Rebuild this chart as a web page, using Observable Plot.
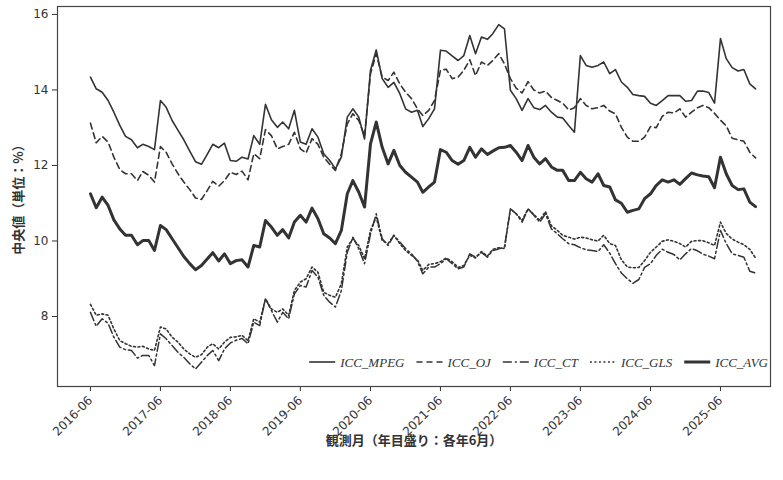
<!DOCTYPE html>
<html>
<head>
<meta charset="utf-8">
<script src="https://cdn.jsdelivr.net/npm/d3@7"></script>
<script src="https://cdn.jsdelivr.net/npm/@observablehq/plot@0.6"></script>
<style>
  body { margin: 0; background: #fff; }
  #chart svg { font-family: "DejaVu Sans", "Noto Sans CJK JP", sans-serif; }
  #chart svg [aria-label="x-axis label"] text,
  #chart svg [aria-label="y-axis label"] text { font-family: "Noto Sans CJK JP", sans-serif; font-weight: bold; font-size: 13px; }
</style>
</head>
<body>
<div id="chart"></div>
<script>
// Monthly medians (%), June 2016 through December 2025
const firstMonth = "2016-06";
const monthCount = 115;
const seriesNames = ["ICC_MPEG", "ICC_OJ", "ICC_CT", "ICC_GLS", "ICC_AVG"];
const tickLabels = ["2016-06","2017-06","2018-06","2019-06","2020-06","2021-06","2022-06","2023-06","2024-06","2025-06"];
const yTicks = [8, 10, 12, 14, 16];

const iccMpeg = [
  14.34, 14.03, 13.94, 13.72, 13.41, 13.06, 12.77, 12.68, 12.47, 12.56, 12.50, 12.42,
  13.72, 13.54, 13.19, 12.93, 12.68, 12.38, 12.10, 12.03, 12.30, 12.56, 12.47, 12.59,
  12.13, 12.11, 12.22, 12.17, 12.79, 12.56, 13.62, 13.21, 13.01, 13.15, 12.97, 13.46,
  12.62, 12.56, 12.97, 12.75, 12.31, 12.13, 11.91, 12.22, 13.28, 13.50, 13.28, 12.70,
  14.52, 15.06, 14.30, 14.07, 14.20, 13.90, 13.50, 13.41, 13.46, 13.03, 13.24, 13.50,
  15.05, 15.03, 14.90, 14.78, 14.91, 15.44, 14.96, 15.40, 15.34, 15.49, 15.73, 15.62,
  13.99, 13.77, 13.46, 13.77, 13.53, 13.48, 13.59, 13.41, 13.28, 13.26, 13.06, 12.88,
  14.91, 14.65, 14.60, 14.65, 14.74, 14.43, 14.54, 14.21, 14.07, 13.88, 13.85, 13.83,
  13.65, 13.59, 13.72, 13.85, 13.85, 13.85, 13.70, 13.72, 13.97, 13.97, 13.93, 13.65,
  15.36, 14.83, 14.59, 14.50, 14.54, 14.16, 14.03
];
const iccOj = [
  13.12, 12.60, 12.77, 12.62, 12.22, 11.89, 11.78, 11.78, 11.60, 11.84, 11.74, 11.56,
  12.50, 12.35, 12.04, 11.78, 11.56, 11.36, 11.14, 11.10, 11.34, 11.58, 11.45, 11.60,
  11.82, 11.76, 11.85, 11.62, 12.31, 12.18, 12.95, 12.79, 12.44, 12.50, 12.56, 12.88,
  12.44, 12.33, 12.71, 12.56, 12.22, 12.03, 11.87, 12.31, 13.10, 13.37, 13.19, 12.78,
  14.43, 14.96, 14.34, 14.25, 14.47, 14.16, 13.94, 13.77, 13.50, 13.32, 13.46, 13.72,
  14.52, 14.55, 14.30, 14.34, 14.52, 14.80, 14.38, 14.74, 14.65, 14.78, 14.96, 14.69,
  14.30, 14.05, 13.92, 14.22, 14.00, 13.92, 13.97, 13.80, 13.72, 13.65, 13.47, 13.53,
  13.77, 13.59, 13.50, 13.53, 13.59, 13.44, 13.37, 13.01, 12.75, 12.64, 12.64, 12.75,
  13.03, 13.00, 13.30, 13.41, 13.39, 13.50, 13.28, 13.41, 13.53, 13.59, 13.53, 13.38,
  13.20, 13.05, 12.72, 12.68, 12.64, 12.35, 12.20
];
const iccCt = [
  8.11, 7.74, 7.94, 7.82, 7.45, 7.19, 7.12, 7.10, 6.90, 6.97, 6.97, 6.70,
  7.54, 7.41, 7.23, 7.05, 6.92, 6.75, 6.61, 6.79, 6.97, 7.10, 6.83, 7.14,
  7.30, 7.37, 7.42, 7.28, 7.85, 7.76, 8.47, 8.16, 7.85, 8.11, 7.94, 8.60,
  8.82, 8.78, 9.22, 9.04, 8.56, 8.38, 8.25, 8.69, 9.70, 10.10, 9.79, 9.40,
  10.18, 10.72, 10.06, 9.88, 10.15, 9.97, 9.80, 9.66, 9.46, 9.13, 9.31, 9.31,
  9.40, 9.53, 9.40, 9.26, 9.31, 9.66, 9.57, 9.70, 9.57, 9.75, 9.79, 9.84,
  10.85, 10.72, 10.50, 10.85, 10.68, 10.50, 10.72, 10.32, 10.19, 10.06, 9.93, 9.90,
  9.82, 9.77, 9.75, 9.72, 9.90, 9.68, 9.40, 9.15, 9.00, 8.88, 8.98, 9.30,
  9.40, 9.62, 9.78, 9.70, 9.64, 9.50, 9.66, 9.80, 9.74, 9.65, 9.60, 9.53,
  10.28, 9.93, 9.66, 9.62, 9.57, 9.20, 9.15
];
const iccGls = [
  8.32, 8.03, 8.07, 8.03, 7.67, 7.36, 7.28, 7.21, 7.19, 7.21, 7.14, 7.10,
  7.72, 7.67, 7.45, 7.32, 7.14, 7.01, 6.92, 6.99, 7.19, 7.28, 7.14, 7.32,
  7.45, 7.46, 7.50, 7.36, 7.94, 7.85, 8.47, 8.20, 8.11, 8.20, 8.03, 8.69,
  8.91, 9.00, 9.31, 9.17, 8.64, 8.56, 8.51, 8.87, 9.84, 10.06, 9.88, 9.53,
  10.28, 10.63, 10.01, 9.93, 10.15, 9.93, 9.75, 9.62, 9.50, 9.22, 9.38, 9.40,
  9.45, 9.55, 9.45, 9.30, 9.35, 9.62, 9.55, 9.72, 9.60, 9.78, 9.82, 9.80,
  10.85, 10.72, 10.55, 10.85, 10.70, 10.55, 10.78, 10.40, 10.28, 10.15, 10.10, 10.05,
  10.10, 10.08, 10.03, 10.00, 10.15, 9.93, 9.88, 9.50, 9.31, 9.29, 9.30, 9.48,
  9.70, 9.84, 9.99, 10.03, 9.99, 9.93, 9.84, 9.99, 10.01, 10.01, 9.95, 9.88,
  10.50, 10.20, 10.05, 9.97, 9.90, 9.78, 9.55
];
const iccAvg = [
  11.25, 10.88, 11.16, 10.94, 10.56, 10.32, 10.15, 10.15, 9.90, 10.01, 10.01, 9.75,
  10.41, 10.30, 10.06, 9.82, 9.59, 9.40, 9.24, 9.35, 9.53, 9.69, 9.47, 9.66,
  9.40, 9.48, 9.50, 9.31, 9.88, 9.84, 10.54, 10.37, 10.15, 10.30, 10.08, 10.50,
  10.68, 10.50, 10.87, 10.59, 10.19, 10.08, 9.93, 10.28, 11.25, 11.60, 11.29, 10.90,
  12.57, 13.15, 12.48, 12.04, 12.40, 12.00, 11.82, 11.69, 11.56, 11.29, 11.43, 11.56,
  12.42, 12.35, 12.13, 12.03, 12.13, 12.48, 12.22, 12.44, 12.29, 12.38, 12.47, 12.48,
  12.53, 12.35, 12.13, 12.53, 12.22, 12.04, 12.18, 11.96, 11.87, 11.87, 11.60, 11.60,
  11.82, 11.65, 11.56, 11.78, 11.47, 11.43, 11.09, 11.00, 10.76, 10.81, 10.85, 11.12,
  11.25, 11.47, 11.62, 11.56, 11.62, 11.50, 11.65, 11.80, 11.75, 11.72, 11.70, 11.41,
  12.22, 11.78, 11.47, 11.36, 11.38, 11.03, 10.91
];

const seriesValues = [iccMpeg, iccOj, iccCt, iccGls, iccAvg];

// Line styling for each series (all drawn in dark grey)
const lineStyle = {
  ICC_MPEG: {width: 1.6, dash: null},
  ICC_OJ:   {width: 1.6, dash: "6,4"},
  ICC_CT:   {width: 1.5, dash: "9,3,2,3"},
  ICC_GLS:  {width: 1.6, dash: "2,2.5"},
  ICC_AVG:  {width: 3.0, dash: null}
};
const ink = "#333";

const parseMonth = d3.utcParse("%Y-%m");
const start = parseMonth(firstMonth);
const months = d3.range(monthCount).map(i => d3.utcMonth.offset(start, i));
const tickDates = tickLabels.map(parseMonth);

const rows = seriesNames.flatMap((name, i) =>
  seriesValues[i].map((v, j) => ({month: months[j], value: v, series: name}))
);

const width = 783, height = 480;
const margin = {top: 6, right: 13, bottom: 94, left: 57};

const plot = Plot.plot({
  width, height,
  marginTop: margin.top, marginRight: margin.right,
  marginBottom: margin.bottom, marginLeft: margin.left,
  style: {fontSize: "12px", color: ink, background: "#fff"},
  x: {
    type: "utc",
    domain: [d3.utcDay.offset(start, -172), d3.utcDay.offset(tickDates[tickDates.length - 1], 261)],
    ticks: tickDates,
    tickFormat: d3.utcFormat("%Y-%m"),
    tickRotate: -45,
    tickSize: 5,
    label: "観測月（年目盛り：各年6月）",
    labelAnchor: "center",
    labelArrow: "none",
    labelOffset: 58
  },
  y: {
    domain: [6.146, 16.21],
    ticks: yTicks,
    tickSize: 5,
    label: "中央値（単位：%）",
    labelAnchor: "center",
    labelArrow: "none",
    labelOffset: 44
  },
  marks: [
    ...seriesNames.map(name =>
      Plot.line(rows.filter(d => d.series === name), {
        x: "month", y: "value",
        stroke: ink,
        strokeWidth: lineStyle[name].width,
        strokeDasharray: lineStyle[name].dash,
        strokeLinejoin: "round"
      })
    ),
    Plot.frame({stroke: "#444", strokeWidth: 1.2})
  ]
});

document.getElementById("chart").appendChild(plot);

// Legend inside the lower-right corner of the plot frame
const svg = d3.select(plot);
const legend = svg.append("g").attr("class", "legend").attr("text-anchor", "start");
const sampleLen = 26, sampleGap = 5, itemGap = 12;
const legendY = height - margin.bottom - 24;
const items = seriesNames.map(name => {
  const g = legend.append("g");
  g.append("line")
    .attr("x1", 0).attr("x2", sampleLen).attr("y1", 0).attr("y2", 0)
    .attr("stroke", ink)
    .attr("stroke-width", lineStyle[name].width)
    .attr("stroke-dasharray", lineStyle[name].dash);
  const t = g.append("text")
    .attr("x", sampleLen + sampleGap).attr("y", 0).attr("dy", "0.35em")
    .attr("text-anchor", "start")
    .attr("fill", ink)
    .style("font-family", "'Liberation Serif', 'DejaVu Serif', serif")
    .style("font-style", "italic")
    .style("font-size", "13px")
    .text(name);
  return {g, w: sampleLen + sampleGap + t.node().getComputedTextLength()};
});
const totalW = d3.sum(items, d => d.w) + itemGap * (items.length - 1);
let cx = width - margin.right - 2 - totalW;
items.forEach(it => {
  it.g.attr("transform", `translate(${cx},${legendY})`);
  cx += it.w + itemGap;
});
</script>
</body>
</html>
